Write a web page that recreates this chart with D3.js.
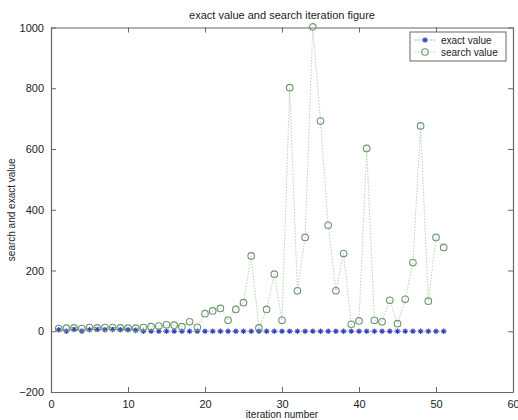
<!DOCTYPE html>
<html>
<head>
<meta charset="utf-8">
<script src="https://cdn.jsdelivr.net/npm/d3@7"></script>
<style>
body { margin: 0; background: #fff; }
text { font-family: "Liberation Sans", Arial, sans-serif; }
</style>
</head>
<body>
<div id="chart"></div>
<script>
// iteration numbers 1..51
const iterations = [1,2,3,4,5,6,7,8,9,10,11,12,13,14,15,16,17,18,19,20,21,22,23,24,25,26,
    27,28,29,30,31,32,33,34,35,36,37,38,39,40,41,42,43,44,45,46,47,48,49,50,51];

const exactValues = [5,0,6,0,5,6,5,6,5,5,3,0,0,0,0,0,0,0,0,0,0,0,0,0,0,0,
    0,0,0,0,0,0,0,0,0,0,0,0,0,0,0,0,0,0,0,0,0,0,0,0,0];

const searchValues = [9,10,11,9,12,11,12,12,11,10,10,12,15,17,21,20,15,31,13,58,67,75,36,72,94,248,
    11,72,188,36,802,133,309,1002,692,349,133,256,23,34,602,36,31,102,25,105,226,676,99,309,276];

const xTicks = [0,10,20,30,40,50,60];
const yTicks = [-200,0,200,400,600,800,1000];

const margin = {top: 27.5, right: 5, bottom: 28, left: 51},
    width = 518 - margin.left - margin.right,
    height = 420 - margin.top - margin.bottom;

const svg = d3.select("#chart")
    .append("svg")
    .attr("width", 518)
    .attr("height", 420);

const g = svg.append("g")
    .attr("transform", `translate(${margin.left},${margin.top})`);

const x = d3.scaleLinear().domain([0, 60]).range([0, width]);
const y = d3.scaleLinear().domain([-200, 1000]).range([height, 0]);

const axisColor = "#666";
const fmt = d3.format("d");

// axes box with inward ticks
g.append("g")
    .attr("transform", `translate(0,${height})`)
    .call(d3.axisBottom(x).tickValues(xTicks).tickFormat(fmt).tickSizeInner(-5).tickSizeOuter(0).tickPadding(8));
g.append("g")
    .call(d3.axisTop(x).tickValues(xTicks).tickSizeInner(-5).tickSizeOuter(0).tickFormat(""));
g.append("g")
    .call(d3.axisLeft(y).tickValues(yTicks).tickFormat(fmt).tickSizeInner(-5).tickSizeOuter(0).tickPadding(7));
g.append("g")
    .attr("transform", `translate(${width},0)`)
    .call(d3.axisRight(y).tickValues(yTicks).tickSizeInner(-5).tickSizeOuter(0).tickFormat(""));

g.selectAll(".domain").attr("stroke", axisColor).attr("stroke-width", 1.2);
g.selectAll(".tick line").attr("stroke", axisColor);
g.selectAll(".tick text")
    .style("font-size", "11px")
    .attr("fill", "#222");

const points = iterations.map((d, i) => ({it: d, exact: exactValues[i], search: searchValues[i]}));

const searchColor = "#6f956f";
const exactColor = "#3344bb";

// search line (dotted)
g.append("path")
    .datum(points)
    .attr("fill", "none")
    .attr("stroke", "#b9d2b9")
    .attr("stroke-width", 1)
    .attr("stroke-dasharray", "1.5,1.5")
    .attr("d", d3.line().x(d => x(d.it)).y(d => y(d.search)));

// exact line (dotted)
g.append("path")
    .datum(points)
    .attr("fill", "none")
    .attr("stroke", "#8c95dd")
    .attr("stroke-width", 1)
    .attr("stroke-dasharray", "1.5,1.5")
    .attr("d", d3.line().x(d => x(d.it)).y(d => y(d.exact)));

function starPath(cx, cy, r) {
    const s = r * 0.7;
    return `M${cx - r},${cy}L${cx + r},${cy}M${cx},${cy - r}L${cx},${cy + r}` +
        `M${cx - s},${cy - s}L${cx + s},${cy + s}M${cx - s},${cy + s}L${cx + s},${cy - s}`;
}

// exact stars
g.selectAll(".star")
    .data(points)
    .enter()
    .append("path")
    .attr("class", "star")
    .attr("d", d => starPath(x(d.it), y(d.exact), 2.8))
    .attr("stroke", exactColor)
    .attr("stroke-width", 1.1);

// search circles
g.selectAll(".circ")
    .data(points)
    .enter()
    .append("circle")
    .attr("class", "circ")
    .attr("cx", d => x(d.it))
    .attr("cy", d => y(d.search))
    .attr("r", 3.3)
    .attr("fill", "none")
    .attr("stroke", searchColor)
    .attr("stroke-width", 1.1);

// title and labels
svg.append("text")
    .attr("x", margin.left + width / 2)
    .attr("y", 19)
    .attr("text-anchor", "middle")
    .style("font-size", "11px")
    .attr("fill", "#222")
    .text("exact value and search iteration figure");

svg.append("text")
    .attr("x", margin.left + width / 2)
    .attr("y", 418)
    .attr("text-anchor", "middle")
    .style("font-size", "10px")
    .attr("fill", "#222")
    .text("iteration number");

svg.append("text")
    .attr("transform", `translate(15,${margin.top + height / 2}) rotate(-90)`)
    .attr("text-anchor", "middle")
    .style("font-size", "10px")
    .attr("fill", "#222")
    .text("search and exact value");

// legend
const legend = svg.append("g").attr("transform", "translate(410,32)");
legend.append("rect")
    .attr("width", 96)
    .attr("height", 29)
    .attr("fill", "#fff")
    .attr("stroke", axisColor);

legend.append("line")
    .attr("x1", 5).attr("x2", 25).attr("y1", 8).attr("y2", 8)
    .attr("stroke", "#8c95dd").attr("stroke-dasharray", "1.5,1.5");
legend.append("path")
    .attr("d", starPath(15, 8, 2.8))
    .attr("stroke", exactColor)
    .attr("stroke-width", 1.1);
legend.append("text")
    .attr("x", 31).attr("y", 11.5)
    .style("font-size", "10px")
    .attr("fill", "#222")
    .text("exact value");

legend.append("line")
    .attr("x1", 5).attr("x2", 25).attr("y1", 20).attr("y2", 20)
    .attr("stroke", "#b9d2b9").attr("stroke-dasharray", "1.5,1.5");
legend.append("circle")
    .attr("cx", 15).attr("cy", 20).attr("r", 3.3)
    .attr("fill", "none")
    .attr("stroke", searchColor)
    .attr("stroke-width", 1.1);
legend.append("text")
    .attr("x", 31).attr("y", 23.5)
    .style("font-size", "10px")
    .attr("fill", "#222")
    .text("search value");
</script>
</body>
</html>
